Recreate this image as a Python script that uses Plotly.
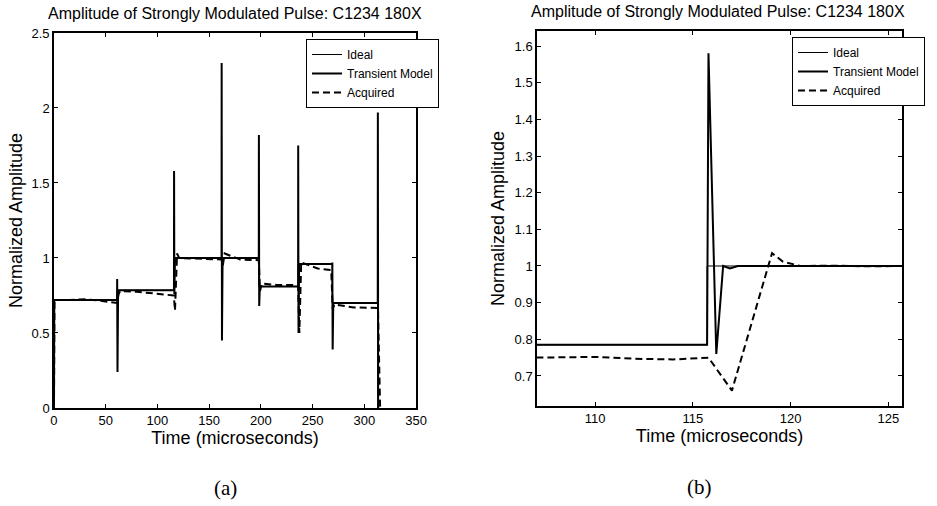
import plotly.graph_objects as go

# ---------------- Panel (a) data ----------------
ideal_a_t = [0, 0, 61, 61, 116, 116, 162, 162, 198, 198, 236, 236, 269, 269, 313, 313]
ideal_a_y = [0, 0.72, 0.72, 0.785, 0.785, 1.0, 1.0, 1.0, 1.0, 0.81, 0.81, 0.96, 0.96, 0.70, 0.70, 0]

transient_a_t = [0, 0.3, 61, 61.1, 61.4, 62, 116, 116.1, 116.4, 117, 162, 162.1, 162.4, 163,
                 198, 198.1, 198.4, 199, 236, 236.1, 236.4, 237, 269, 269.1, 269.4, 270,
                 313, 313.1, 313.4]
transient_a_y = [0, 0.72, 0.72, 0.86, 0.24, 0.785, 0.785, 1.58, 0.76, 1.0, 1.0, 2.30, 0.45, 1.0,
                 1.0, 1.82, 0.68, 0.81, 0.81, 1.75, 0.50, 0.96, 0.96, 0.97, 0.39, 0.70,
                 0.70, 1.97, 0]

acquired_a_t = [0, 0.5, 15, 30, 45, 58, 61, 62.5, 64, 80, 100, 113, 115.8, 117, 119, 121,
                140, 160, 162, 163.2, 165, 180, 196, 198, 199.2, 201, 215, 234, 236, 237.2,
                239, 255, 268, 269.5, 271, 290, 312, 313.2, 315.3]
acquired_a_y = [0, 0.72, 0.72, 0.725, 0.715, 0.70, 0.70, 0.76, 0.78, 0.775, 0.76, 0.75, 0.75,
                0.65, 1.03, 1.0, 0.995, 0.99, 0.99, 0.95, 1.03, 0.99, 0.985, 0.985, 0.78, 0.83,
                0.82, 0.82, 0.82, 0.50, 0.97, 0.93, 0.92, 0.66, 0.69, 0.67, 0.667, 0.667, 0]

# ---------------- Panel (b) data ----------------
ideal_b_t = [107, 115.73, 115.73, 125.7]
ideal_b_y = [0.785, 0.785, 1.0, 1.0]

transient_b_t = [107, 115.73, 115.8, 116.2, 116.55, 116.9, 117.3, 125.7]
transient_b_y = [0.785, 0.785, 1.58, 0.76, 1.0, 0.993, 1.0, 1.0]

acquired_b_t = [107, 108.5, 110, 112, 114, 115.8, 117.0, 119.05, 119.6, 120.5, 122, 124, 125.7]
acquired_b_y = [0.75, 0.75, 0.752, 0.747, 0.745, 0.75, 0.66, 1.035, 1.012, 1.0, 1.001, 0.999, 1.0]

series_names = ["Ideal", "Transient Model", "Acquired"]
title_text = "Amplitude of Strongly Modulated Pulse: C1234 180X"
xlabel = "Time (microseconds)"
ylabel = "Normalized Amplitude"
captions = ["(a)", "(b)"]

FONT = "Liberation Sans, Arial, sans-serif"
SERIF = "Liberation Serif, DejaVu Serif, serif"

fig = go.Figure()

styles = [dict(color="black", width=1),
          dict(color="black", width=2),
          dict(color="black", width=2, dash="7px,4px")]

panels = [
    ("x", "y", "legend", [(ideal_a_t, ideal_a_y), (transient_a_t, transient_a_y), (acquired_a_t, acquired_a_y)]),
    ("x2", "y2", "legend2", [(ideal_b_t, ideal_b_y), (transient_b_t, transient_b_y), (acquired_b_t, acquired_b_y)]),
]
for xa, ya, lg, data in panels:
    for name, (t, y), st in zip(series_names, data, styles):
        fig.add_trace(go.Scatter(x=t, y=y, mode="lines", name=name, line=st,
                                 xaxis=xa, yaxis=ya, legend=lg))

axis_common = dict(showgrid=False, zeroline=False, showline=True, linecolor="black",
                   linewidth=1.5, mirror="ticks", ticks="inside", ticklen=4,
                   tickcolor="black", tickwidth=1,
                   tickfont=dict(family=FONT, size=13, color="black"))

legend_common = dict(xanchor="left", yanchor="top", bgcolor="white",
                     bordercolor="black", borderwidth=1, font=dict(family=FONT, size=12),
                     itemwidth=30, tracegroupgap=0)

fig.update_layout(
    width=937, height=506,
    margin=dict(l=0, r=0, t=0, b=0, autoexpand=False),
    paper_bgcolor="white", plot_bgcolor="white",
    font=dict(family=FONT, color="black"),
    xaxis=dict(domain=[0.0576, 0.444], range=[0, 350], tickvals=[0, 50, 100, 150, 200, 250, 300, 350],
               anchor="y", title=dict(text=xlabel, font=dict(size=18), standoff=3), **axis_common),
    yaxis=dict(domain=[0.1937, 0.9348], range=[0, 2.5], tickvals=[0, 0.5, 1, 1.5, 2, 2.5],
               anchor="x", title=dict(text=ylabel, font=dict(size=18), standoff=4), **axis_common),
    xaxis2=dict(domain=[0.5731, 0.9627], range=[107.03, 125.7], tickvals=[110, 115, 120, 125],
                anchor="y2", title=dict(text=xlabel, font=dict(size=18), standoff=3), **axis_common),
    yaxis2=dict(domain=[0.1976, 0.9387], range=[0.618, 1.641],
                tickvals=[0.7, 0.8, 0.9, 1.0, 1.1, 1.2, 1.3, 1.4, 1.5, 1.6],
                ticktext=["0.7", "0.8", "0.9", "1", "1.1", "1.2", "1.3", "1.4", "1.5", "1.6"],
                anchor="x2", title=dict(text=ylabel, font=dict(size=18), standoff=5), **axis_common),
    legend=dict(x=306 / 937, y=1 - 39 / 506, **legend_common),
    legend2=dict(x=792 / 937, y=1 - 37 / 506, **legend_common),
    showlegend=True,
)

annotations = [
    dict(text=title_text, x=235 / 937, y=1 - 14 / 506, xref="paper", yref="paper",
         xanchor="center", yanchor="middle", showarrow=False, font=dict(family=FONT, size=16)),
    dict(text=title_text, x=718 / 937, y=1 - 12 / 506, xref="paper", yref="paper",
         xanchor="center", yanchor="middle", showarrow=False, font=dict(family=FONT, size=16)),
    dict(text=captions[0], x=225 / 937, y=1 - 488 / 506, xref="paper", yref="paper",
         xanchor="center", yanchor="middle", showarrow=False, font=dict(family=SERIF, size=21)),
    dict(text=captions[1], x=699 / 937, y=1 - 487 / 506, xref="paper", yref="paper",
         xanchor="center", yanchor="middle", showarrow=False, font=dict(family=SERIF, size=21)),
]
fig.update_layout(annotations=annotations)

fig.write_html("out.html")
